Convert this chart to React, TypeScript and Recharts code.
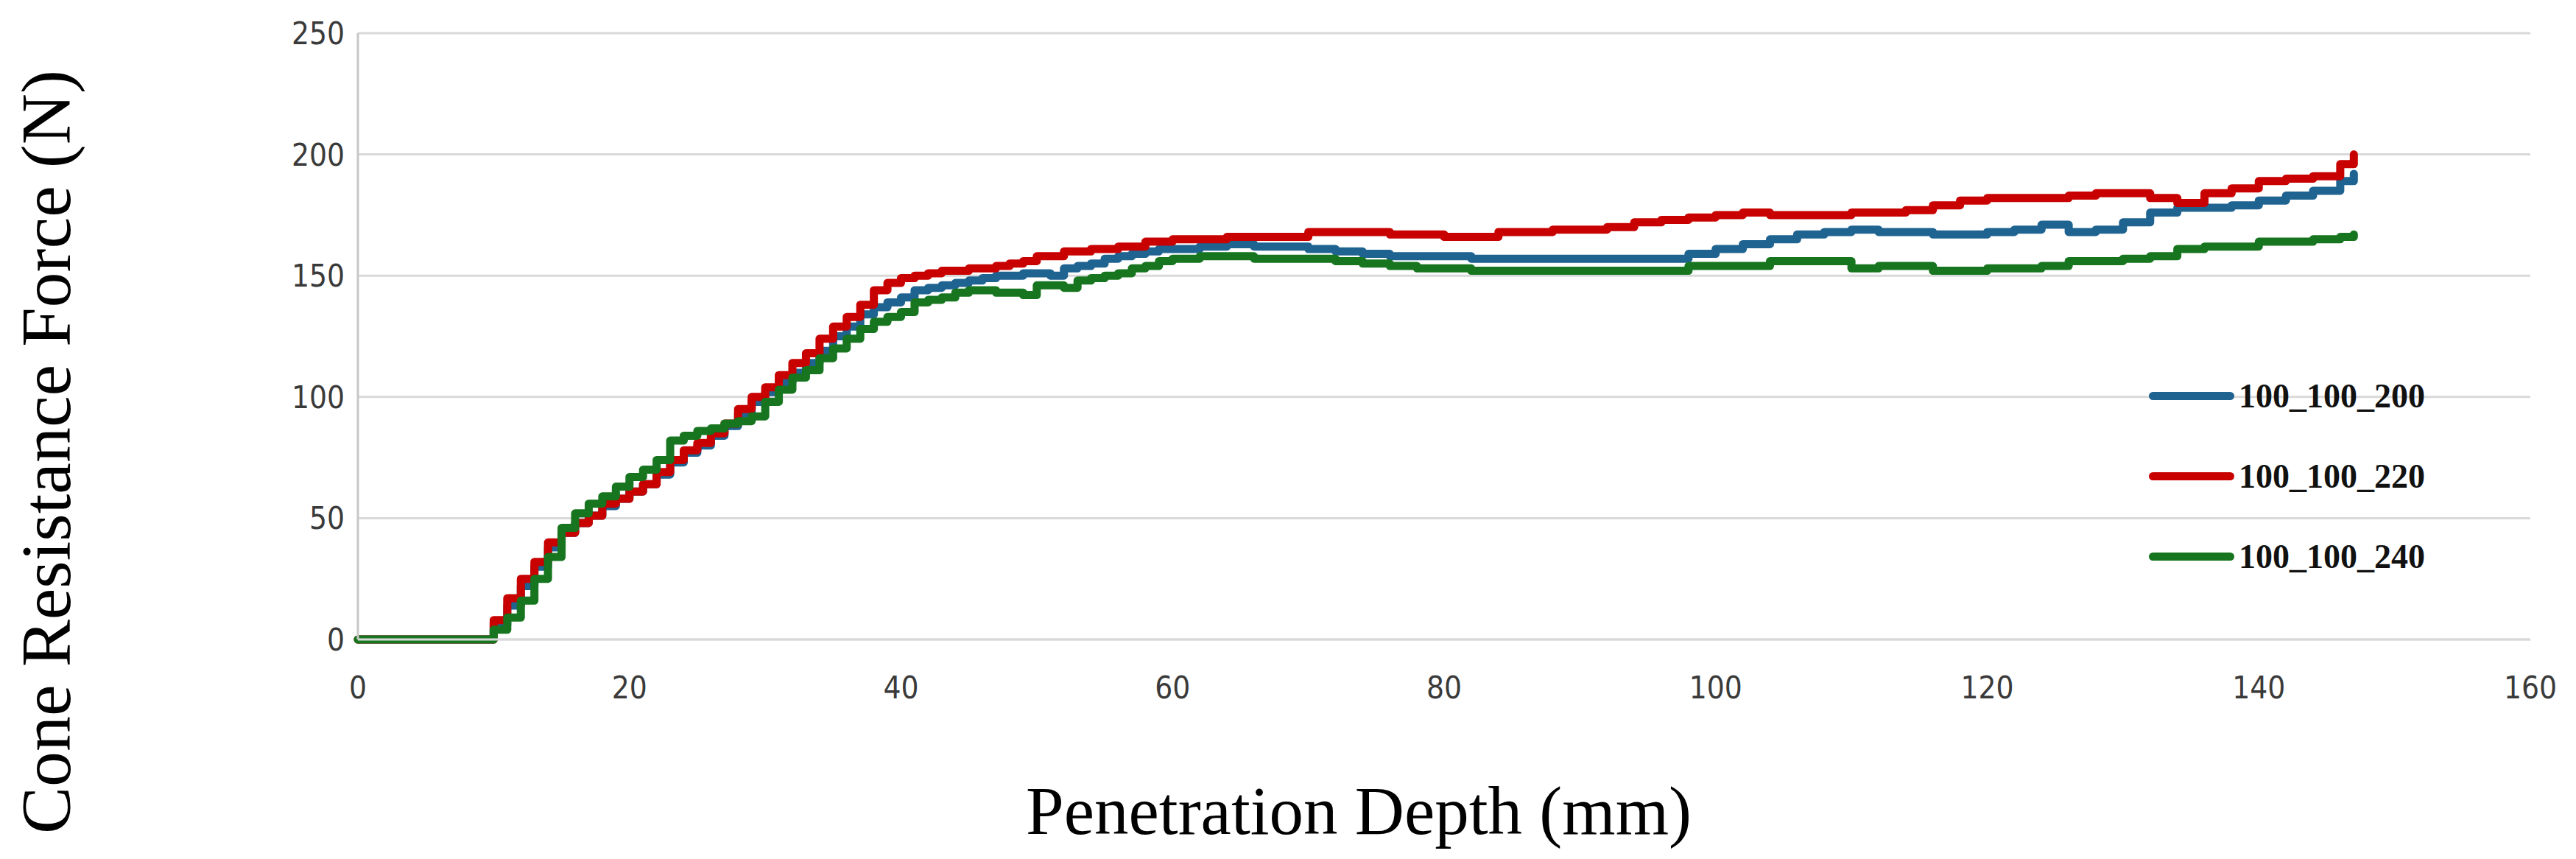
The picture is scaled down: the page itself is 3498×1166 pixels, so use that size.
import React from 'react';
import { LineChart, Line, XAxis, YAxis, CartesianGrid, Legend } from 'recharts';

// penetration depth (mm)
const depth = [
  0, 9,
  10, 11, 12, 13, 14, 15, 16, 17, 18, 19,
  20, 21, 22, 23, 24, 25, 26, 27, 28, 29,
  30, 31, 32, 33, 34, 35, 36, 37, 38, 39,
  40, 41, 42, 43, 44, 45, 46, 47, 48, 49,
  50, 51, 52, 53, 54, 55, 56, 57, 58, 59,
  60,
  62, 64, 66, 68, 70, 72, 74, 76, 78, 80,
  82, 84, 86, 88, 90, 92, 94, 96, 98, 100,
  102, 104, 106, 108, 110, 112, 114, 116, 118, 120,
  122, 124, 126, 128, 130, 132, 134, 136, 138, 140,
  142, 144, 146,
  147,
];

// cone resistance force (N)
const force200 = [
  0, 0,
  6, 14, 22, 30, 38, 44, 48, 51, 55, 58,
  61, 64, 68, 73, 77, 80, 84, 88, 93, 98,
  102, 106, 110, 114, 119, 125, 129, 134, 137, 139,
  141, 144, 145, 146, 147, 148, 149, 150, 150, 151,
  151, 150, 153, 154, 155, 157, 158, 159, 160, 161,
  161,
  162, 163, 162, 162, 161, 160, 159, 158, 158, 158,
  157, 157, 157, 157, 157, 157, 157, 157, 159, 161,
  163, 165, 167, 168, 169, 168, 168, 167, 167, 168,
  169, 171, 168, 169, 172, 176, 178, 178, 179, 181,
  183, 185, 189,
  192,
];

const force220 = [
  0, 0,
  8, 17, 25, 32, 40, 44, 48, 51, 56, 58,
  61, 64, 69, 74, 78, 81, 85, 89, 95, 100,
  104, 109, 114, 118, 124, 129, 133, 138, 144, 147,
  149, 150, 151, 152, 152, 153, 153, 154, 155, 156,
  158, 158, 160, 160, 161, 161, 162, 162, 164, 164,
  165,
  165, 166, 166, 166, 168, 168, 168, 167, 167, 166,
  166, 168, 168, 169, 169, 170, 172, 173, 174, 175,
  176, 175, 175, 175, 176, 176, 177, 179, 181, 182,
  182, 182, 183, 184, 184, 182, 180, 184, 186, 189,
  190, 191, 196,
  200,
];

const force240 = [
  0, 0,
  4, 9, 16, 25, 34, 46, 52, 56, 59, 63,
  67, 70, 74, 82, 84, 86, 87, 89, 90, 92,
  98, 103, 108, 111, 116, 120, 124, 128, 131, 133,
  135, 139, 140, 141, 143, 144, 144, 143, 143, 142,
  146, 146, 145, 148, 149, 150, 151, 153, 154, 156,
  157,
  158, 158, 157, 157, 157, 156, 155, 154, 153, 153,
  152, 152, 152, 152, 152, 152, 152, 152, 154, 154,
  154, 156, 156, 156, 153, 154, 154, 152, 152, 153,
  153, 154, 156, 156, 157, 158, 161, 162, 162, 164,
  164, 165, 166,
  167,
];

const seriesNames = ['100_100_200', '100_100_220', '100_100_240'];
const xTicks = [0, 20, 40, 60, 80, 100, 120, 140, 160];
const yTicks = [0, 50, 100, 150, 200, 250];

const data = depth.map((d, i) => ({
  depth: d,
  s200: force200[i],
  s220: force220[i],
  s240: force240[i],
}));

const tickFont = "'Liberation Sans Narrow', 'DejaVu Sans Condensed', 'Liberation Sans', sans-serif";
const titleFont = "'Liberation Serif', 'Times New Roman', serif";

const tickStyle = { fontSize: 42, fill: '#3a3a3a', fontFamily: tickFont };

const XTitle = ({ viewBox }: any) => (
  <text
    x={viewBox.x + viewBox.width / 2 - 116}
    y={1100}
    textAnchor="middle"
    dominantBaseline="central"
    fontFamily={titleFont}
    fontSize={93}
    fill="#000"
  >
    Penetration Depth (mm)
  </text>
);

const YTitle = ({ viewBox }: any) => {
  const cx = 62;
  const cy = viewBox.y + viewBox.height / 2 + 157;
  return (
    <text
      x={cx}
      y={cy}
      transform={`rotate(-90, ${cx}, ${cy})`}
      textAnchor="middle"
      dominantBaseline="central"
      fontFamily={titleFont}
      fontSize={96}
      fill="#000"
    >
      Cone Resistance Force (N)
    </text>
  );
};

const renderLegend = (props: any) => {
  const { payload } = props;
  return (
    <div>
      {payload.map((p: any) => (
        <div key={p.value} style={{ display: 'flex', alignItems: 'center', height: 109 }}>
          <div style={{ width: 116, height: 11, borderRadius: 6, background: p.color, marginRight: 6 }} />
          <span style={{ fontFamily: titleFont, fontWeight: 'bold', fontSize: 46, color: '#111' }}>
            {p.value}
          </span>
        </div>
      ))}
    </div>
  );
};

const lineProps = {
  type: 'stepAfter' as const,
  strokeWidth: 11,
  strokeLinejoin: 'round' as const,
  strokeLinecap: 'round' as const,
  dot: false,
  isAnimationActive: false,
};

export default function App() {
  return (
    <div style={{ width: 3498, height: 1166, background: '#fff' }}>
      <style>{'body{margin:0;}'}</style>
      <LineChart
        width={3498}
        height={1166}
        data={data}
        margin={{ top: 45, right: 62, bottom: 208, left: 366 }}
      >
        <CartesianGrid vertical={false} stroke="#d9d9d9" strokeWidth={3} />
        <XAxis
          dataKey="depth"
          type="number"
          domain={[0, 160]}
          ticks={xTicks}
          tick={tickStyle}
          tickSize={0}
          tickMargin={50}
          height={90}
          axisLine={{ stroke: '#d9d9d9', strokeWidth: 3 }}
          label={<XTitle />}
        />
        <YAxis
          type="number"
          domain={[0, 250]}
          ticks={yTicks}
          tick={tickStyle}
          tickSize={0}
          tickMargin={18}
          width={120}
          axisLine={{ stroke: '#c8c8c8', strokeWidth: 3 }}
          label={<YTitle />}
        />
        <Legend
          layout="vertical"
          align="center"
          verticalAlign="middle"
          content={renderLegend}
          wrapperStyle={{ left: 2918, top: 483, width: 560 }}
        />
        <Line {...lineProps} dataKey="s200" name={seriesNames[0]} stroke="#1f6391" />
        <Line {...lineProps} dataKey="s220" name={seriesNames[1]} stroke="#c80000" />
        <Line {...lineProps} dataKey="s240" name={seriesNames[2]} stroke="#17751f" />
      </LineChart>
    </div>
  );
}
